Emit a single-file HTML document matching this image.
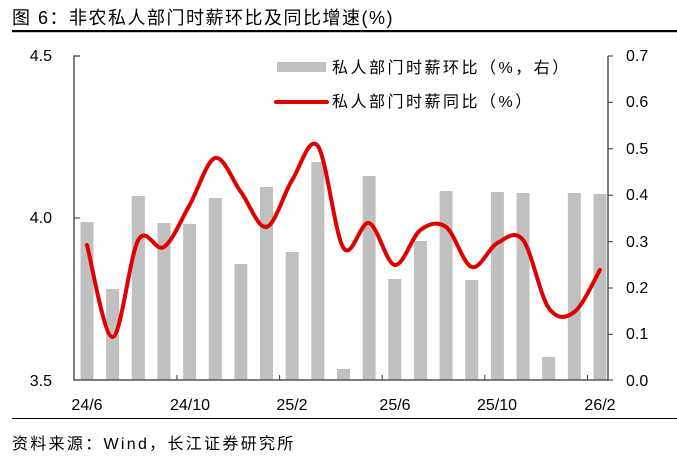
<!DOCTYPE html>
<html><head><meta charset="utf-8"><style>
body{margin:0;background:#fff;}
svg{display:block;font-family:"Liberation Sans","Noto Sans CJK SC",sans-serif;}
</style></head><body>
<svg id="s" width="677" height="458" viewBox="0 0 677 458">
<text x="12" y="24" font-size="18" letter-spacing="1.5" fill="#000">图 6：非农私人部门时薪环比及同比增速(%)</text>
<rect x="12" y="30" width="665" height="2.2" fill="#000"/>
<rect x="12" y="418" width="665" height="1" fill="#000"/>
<text x="12" y="449" font-size="16" letter-spacing="2.3" fill="#000">资料来源：Wind，长江证券研究所</text>
<g id="bars" fill="#c0c0c0"></g>
<path d="M80 56H74V380H608V56" fill="none" stroke="#555" stroke-width="1.5"/>
<path d="M74 218H80M608 56H613M608 102.4H613M608 148.8H613M608 195.2H613M608 241.6H613M608 288H613M608 334.4H613M608 380H613M177 380V375M279.6 380V375M382.2 380V375M484.8 380V375M587.4 380V375" stroke="#333" stroke-width="1"/>
<g font-size="16" fill="#000">
<text x="52" y="61" text-anchor="end">4.5</text>
<text x="52" y="223" text-anchor="end">4.0</text>
<text x="52" y="386" text-anchor="end">3.5</text>
<text x="626" y="61">0.7</text><text x="626" y="107">0.6</text><text x="626" y="154">0.5</text><text x="626" y="200">0.4</text><text x="626" y="247">0.3</text><text x="626" y="293">0.2</text><text x="626" y="339">0.1</text><text x="626" y="386">0.0</text>
<text x="87" y="410" text-anchor="middle">24/6</text>
<text x="190" y="410" text-anchor="middle">24/10</text>
<text x="292" y="410" text-anchor="middle">25/2</text>
<text x="395" y="410" text-anchor="middle">25/6</text>
<text x="497" y="410" text-anchor="middle">25/10</text>
<text x="600" y="410" text-anchor="middle">26/2</text>
</g>
<rect x="277" y="62" width="49" height="10" fill="#c0c0c0"/>
<text x="332" y="73" font-size="16" letter-spacing="2.5">私人部门时薪环比（%，右）</text>
<line x1="276" y1="102" x2="327" y2="102" stroke="#e00000" stroke-width="4" stroke-linecap="round"/>
<text x="332" y="107" font-size="16" letter-spacing="2.5">私人部门时薪同比（%）</text>
<path id="ln" fill="none" stroke="#e00000" stroke-width="4" stroke-linecap="round"/>
</svg>
<script>
var tops=[222,289,196,223,224,198,264,187,252,162,369,176,279,241,191,280,192,193,357,193,194];
var ys=[245,337,240,247,205,158,192,227,180,146,248,223,265,230,227,267,243,240,308,312,270];
var g=document.getElementById('bars'),h='';
function X(i){return 87+i*25.65;}
for(var i=0;i<21;i++){h+='<rect x="'+(X(i)-6.5)+'" y="'+tops[i]+'" width="13" height="'+(380-tops[i])+'"/>';}
g.innerHTML=h;
var p='M'+X(0)+' '+ys[0];
for(var i=0;i<20;i++){
var x0=X(Math.max(i-1,0)),y0=ys[Math.max(i-1,0)],x1=X(i),y1=ys[i],x2=X(i+1),y2=ys[i+1],x3=X(Math.min(i+2,20)),y3=ys[Math.min(i+2,20)];
p+=' C'+(x1+(x2-x0)/6)+' '+(y1+(y2-y0)/6)+' '+(x2-(x3-x1)/6)+' '+(y2-(y3-y1)/6)+' '+x2+' '+y2;}
document.getElementById('ln').setAttribute('d',p);
</script>
</body></html>
